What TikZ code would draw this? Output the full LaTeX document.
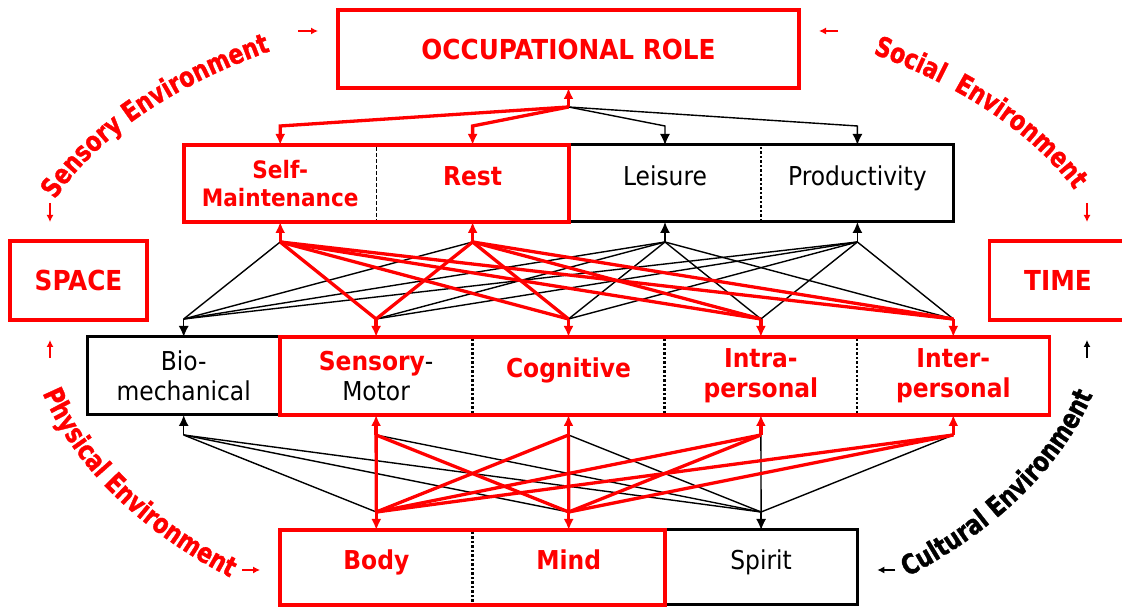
\documentclass[tikz,border=0pt]{standalone}
\usepackage{fontspec}
\setmainfont{DejaVu Sans Condensed}
\newfontfamily\envfont{DejaVu Sans Condensed Bold}[FakeStretch=0.89,FakeBold=1.2]
\usetikzlibrary{positioning,arrows.meta,decorations.text}
\definecolor{colorcore}{RGB}{255,0,0}
\definecolor{colortext}{RGB}{0,0,0}

\begin{document}
\begin{tikzpicture}[
    x=1pt, y=1pt, node distance=0pt,
    >={Latex[length=11pt,width=10pt]},
    base/.style={text=colortext,font={\fontsize{26}{30}\selectfont},inner sep=0pt,outer sep=0pt,align=center,rectangle,minimum width=192.4pt,minimum height=77pt},
    core/.style={base,text=colorcore,font={\fontsize{26}{30}\selectfont\bfseries}},
    oneline/.style={text height=0.75em,text depth=0.4em},
    side/.style={core,draw=colorcore,line width=3.8pt,font={\fontsize{27.5}{30}\selectfont\bfseries}},
    frame/.style={draw=colortext,line width=3pt},
    redframe/.style={draw=colorcore,line width=3.8pt},
    divider/.style={draw=colortext,line width=2.5pt,dotted},
    link/.style={draw=colortext,line width=1.4pt},
    redlink/.style={draw=colorcore,line width=3.3pt},
    envarrow/.style={->,line width=1.3pt,>={Latex[length=7pt,width=7pt]}},
    envtxt/.style 2 args={decorate,decoration={text along path,text align=center,
        text={|\envfont\fontsize{27.5}{27.5}\selectfont\color{#1}|#2}}},
]
    \useasboundingbox (0,0) rectangle (1122,607);

    % Boxes
    \node[side,minimum width=461pt,minimum height=78pt] (role) at (568.5,558) {OCCUPATIONAL ROLE};
    \node[side,minimum width=137pt,minimum height=79pt] (space) at (78.5,326.5) {SPACE};
    \node[side,minimum width=137pt,minimum height=79pt] (time) at (1058,326.5) {TIME};

    \node[core,font={\fontsize{24}{28}\selectfont\bfseries}] (selfcare) at (280.2,423.5) {Self-\\Maintenance};
    \node[core,oneline,right=of selfcare] (rest) {Rest};
    \node[base,oneline,right=of rest] (leisure) {Leisure};
    \node[base,oneline,right=of leisure] (productivity) {Productivity};

    \node[base,minimum height=78pt] (bio) at (183.7,231) {Bio-\\mechanical};
    \node[base,minimum height=78pt,right=of bio] (sensory) {{\bfseries\color{colorcore}Sensory}-\\Motor};
    \node[core,oneline,minimum height=78pt,right=of sensory] (cognitive) {Cognitive};
    \node[core,minimum height=78pt,right=of cognitive] (intra) {Intra-\\personal};
    \node[core,minimum height=78pt,right=of intra] (inter) {Inter-\\personal};

    \node[core,oneline,text depth=0.3em,minimum height=75pt] (body) at (376.3,39.5) {Body};
    \node[core,oneline,text depth=0.3em,minimum height=75pt,right=of body] (mind) {Mind};
    \node[base,oneline,text depth=0.3em,minimum height=75pt,right=of mind] (spirit) {Spirit};

    % Frames and dividers
    \draw[frame] (selfcare.north west) rectangle (productivity.south east);
    \draw[redframe] (selfcare.north west) rectangle (rest.south east);
    \draw[colortext,line width=1pt,dash pattern=on 4pt off 2pt] ([yshift=-2pt]selfcare.north east) -- ([yshift=2pt]selfcare.south east);
    \draw[divider] ([yshift=-2pt]leisure.north east) -- ([yshift=2pt]leisure.south east);
    \draw[frame] (bio.north west) rectangle (inter.south east);
    \draw[redframe] (sensory.north west) rectangle (inter.south east);
    \foreach \n in {sensory,cognitive,intra}
        \draw[divider] ([yshift=-2pt]\n.north east) -- ([yshift=2pt]\n.south east);
    \draw[frame] (body.north west) rectangle (spirit.south east);
    \draw[redframe] (body.north west) rectangle (mind.south east);
    \draw[divider] ([yshift=-2pt]body.north east) -- ([yshift=2pt]body.south east);

    % Junctions
    \coordinate (rolehub) at ([yshift=-19pt]role.south);
    \foreach \n in {selfcare,rest,leisure,productivity}{
        \coordinate (\n-top) at ([yshift=19pt]\n.north);
        \coordinate (\n-bot) at ([yshift=-20pt]\n.south);
    }
    \foreach \n in {bio,sensory,cognitive,intra,inter,body,mind,spirit}{
        \coordinate (\n-top) at ([yshift=18pt]\n.north);
        \coordinate (\n-bot) at ([yshift=-20pt]\n.south);
    }

    % Links, black first
    \draw[link,->] (rolehub) -- (leisure-top) -- (leisure.north);
    \draw[link,->] (rolehub) -- (productivity-top) -- (productivity.north);
    \foreach \a in {leisure,productivity}{
        \draw[link,->] (\a-bot) -- (\a.south);
        \foreach \b in {bio,sensory,cognitive,intra,inter}
            \draw[link] (\a-bot) -- (\b-top);
    }
    \foreach \a in {selfcare,rest}
        \draw[link] (\a-bot) -- (bio-top);
    \draw[link,->] (bio-top) -- (bio.north);
    \draw[link,->] (bio-bot) -- (bio.south);
    \foreach \b in {body,mind,spirit}
        \draw[link] (bio-bot) -- (\b-top);
    \foreach \a in {sensory,cognitive,intra,inter}
        \draw[link] (\a-bot) -- (spirit-top);
    \draw[link,->] (spirit-top) -- (spirit.north);

    % Links, red
    \draw[redlink,->] (rolehub) -- (role.south);
    \draw[redlink,->] (rolehub) -- (selfcare-top) -- (selfcare.north);
    \draw[redlink,->] (rolehub) -- (rest-top) -- (rest.north);
    \foreach \a in {selfcare,rest}{
        \draw[redlink,->] (\a-bot) -- (\a.south);
        \foreach \b in {sensory,cognitive,intra,inter}
            \draw[redlink] (\a-bot) -- (\b-top);
    }
    \foreach \a in {sensory,cognitive,intra,inter}{
        \draw[redlink,->] (\a-top) -- (\a.north);
        \draw[redlink,->] (\a-bot) -- (\a.south);
        \foreach \b in {body,mind}
            \draw[redlink] (\a-bot) -- (\b-top);
    }
    \foreach \b in {body,mind}
        \draw[redlink,->] (\b-top) -- (\b.north);

    % Environments
    \path[envtxt={colorcore}{Sensory Environment}] (27.06,343.19) arc[start angle=173,end angle=115,x radius=545,y radius=297];
    \path[envtxt={colorcore}{Social}] (823.86,569.24) arc[start angle=62,end angle=40,x radius=545,y radius=297];
    \path[envtxt={colorcore}{Environment}] (903.53,541.04) arc[start angle=52,end angle=12,x radius=545,y radius=297];
    \path[envtxt={colorcore}{Physical Environment}] (33.01,240.26) arc[start angle=191,end angle=235,x radius=545,y radius=355];
    \path[envtxt={colortext}{Cultural Environment}] (880.6,17.2) arc[start angle=-55,end angle=-11,x radius=545,y radius=355];

    \draw[envarrow,colorcore] ([xshift=-40pt,yshift=18pt]role.west) -- ([xshift=-20pt,yshift=18pt]role.west);
    \draw[envarrow,colorcore] ([xshift=39pt,yshift=18pt]role.east) -- ([xshift=20pt,yshift=18pt]role.east);
    \draw[envarrow,colorcore] ([xshift=-28.5pt,yshift=38pt]space.north) -- ([xshift=-28.5pt,yshift=19pt]space.north);
    \draw[envarrow,colorcore] ([xshift=-28.5pt,yshift=-38pt]space.south) -- ([xshift=-28.5pt,yshift=-20pt]space.south);
    \draw[envarrow,colorcore] ([xshift=29pt,yshift=38pt]time.north) -- ([xshift=29pt,yshift=19pt]time.north);
    \draw[envarrow,colortext] ([xshift=29pt,yshift=-38pt]time.south) -- ([xshift=29pt,yshift=-20pt]time.south);
    \draw[envarrow,colorcore] ([xshift=-38pt,yshift=-2.5pt]body.west) -- ([xshift=-20pt,yshift=-2.5pt]body.west);
    \draw[envarrow,colortext] ([xshift=38pt,yshift=-2.5pt]spirit.east) -- ([xshift=20pt,yshift=-2.5pt]spirit.east);

\end{tikzpicture}
\end{document}
